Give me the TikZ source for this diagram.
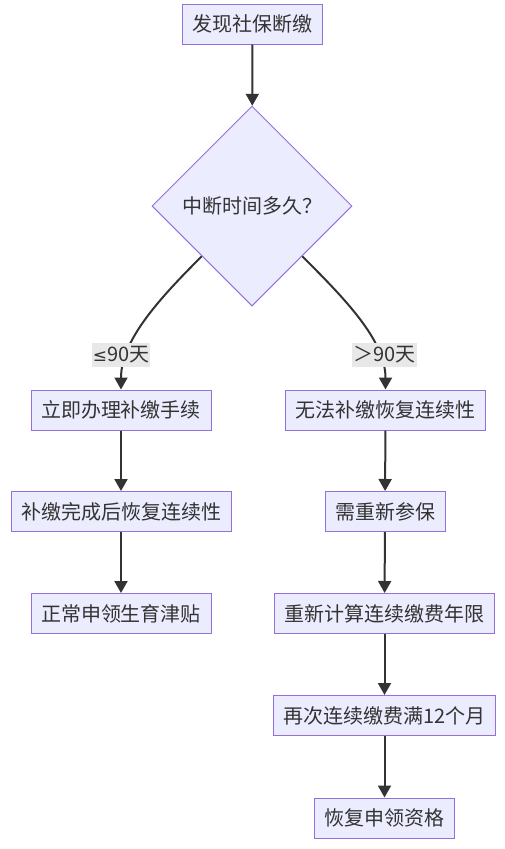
\documentclass[tikz,border=0pt]{standalone}
\usepackage{fontspec}
\newfontfamily\cjk{Noto Sans CJK SC}
\newfontfamily\sym{DejaVu Sans}
\usepackage{xcolor}
\usepackage{tikz}
\usetikzlibrary{arrows.meta, shapes.geometric}
\definecolor{nodefill}{HTML}{ECECFF}
\definecolor{nodeline}{HTML}{9370DB}
\definecolor{edgeline}{HTML}{333333}
\definecolor{labelfill}{HTML}{E8E8E8}

\begin{document}
\begin{tikzpicture}[x=1pt, y=-1pt,
    box/.style={draw=nodeline, fill=nodefill, line width=1pt, minimum height=40pt,
        inner xsep=10pt, inner ysep=0pt, text=edgeline, font={\cjk\fontsize{20pt}{24pt}\selectfont}},
    choice/.style={box, diamond, aspect=1, minimum width=200pt, minimum height=200pt},
    edge/.style={draw=edgeline, line width=2pt, -{Triangle[length=12pt, width=13pt]}},
    lbl/.style={fill=labelfill, inner xsep=1pt, inner ysep=0pt, minimum height=24pt,
        text=edgeline, font={\cjk\fontsize{20pt}{24pt}\selectfont}}]
    \useasboundingbox (0,0) rectangle (504,849);
    % topo e decisao
    \node[box] (n0) at (252.5,24) {发现社保断缴};
    \node[choice] (n1) at (252,206) {中断时间多久？};
    % ramo esquerdo
    \node[box] (n2) at (121,410) {立即办理补缴手续};
    \node[box] (n3) at (121,511.5) {补缴完成后恢复连续性};
    \node[box] (n4) at (121,613.5) {正常申领生育津贴};
    % ramo direito
    \node[box] (n5) at (385.5,410) {无法补缴恢复连续性};
    \node[box] (n6) at (385,511.5) {需重新参保};
    \node[box] (n7) at (384.5,613.5) {重新计算连续缴费年限};
    \node[box] (n8) at (384.5,715.5) {再次连续缴费满12个月};
    \node[box] (n9) at (384.5,818) {恢复申领资格};
    % setas
    \draw[edge] (n0) -- (n1);
    \draw[edge] (n1.south west) .. controls (160,298) and (121,340) .. (n2.north);
    \draw[edge] (n1.south east) .. controls (344,298) and (385.5,340) .. (n5.north);
    \draw[edge] (n2) -- (n3);
    \draw[edge] (n3) -- (n4);
    \draw[edge] (n5) -- (n6);
    \draw[edge] (n6) -- (n7);
    \draw[edge] (n7) -- (n8);
    \draw[edge] (n8) -- (n9);
    % rotulos
    \node[lbl] (l1) at (121,355) {{\sym\fontsize{17pt}{24pt}\selectfont ≤}90天};
    \node[lbl] (l2) at (384.5,355) {＞90天};
\end{tikzpicture}
\end{document}
